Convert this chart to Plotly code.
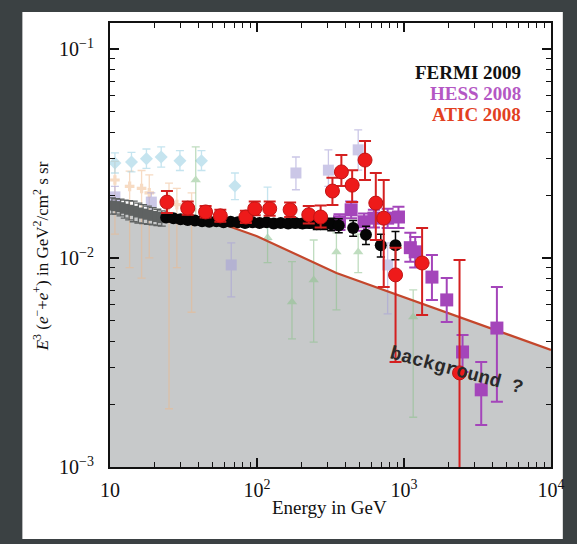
import plotly.graph_objects as go

# ---------------- data ----------------
# background model (GeV, GeV^2 cm^-2 s^-1 sr^-1)
bg_E = [10, 20, 49, 100, 347, 10000]
bg_v = [0.0172, 0.0161, 0.0152, 0.0127, 0.00848, 0.00363]
floor_v = 1e-4

# FERMI 2009
fermi_E = [24.1, 27.0, 30.2, 33.8, 37.8, 42.3, 47.3, 52.9, 59.2, 66.2, 74.1, 82.9, 92.8,
           104, 116, 130, 145, 163, 182, 204, 228, 255, 286, 320, 360, 451, 551, 695, 875]
fermi_v = [0.0156, 0.0155, 0.0153, 0.0152, 0.0151, 0.0150, 0.0149, 0.0150, 0.0148, 0.0149,
           0.0148, 0.0147, 0.0148, 0.0147, 0.0148, 0.0146, 0.0147, 0.0146, 0.0147, 0.0146,
           0.0147, 0.0145, 0.0146, 0.0145, 0.0143, 0.0139, 0.0129, 0.0115, 0.0115]
fermi_hi = [0.0162, 0.0161, 0.0159, 0.0158, 0.0157, 0.0156, 0.0155, 0.0156, 0.0154, 0.0155,
            0.0154, 0.0153, 0.0154, 0.0153, 0.0154, 0.0152, 0.0153, 0.0152, 0.0154, 0.0153,
            0.0155, 0.0153, 0.0155, 0.0155, 0.0154, 0.0151, 0.0142, 0.0130, 0.0134]
fermi_lo = [0.0150, 0.0149, 0.0147, 0.0146, 0.0145, 0.0144, 0.0143, 0.0144, 0.0142, 0.0143,
            0.0142, 0.0141, 0.0142, 0.0141, 0.0142, 0.0140, 0.0141, 0.0140, 0.0140, 0.0139,
            0.0139, 0.0137, 0.0137, 0.0135, 0.0132, 0.0127, 0.0116, 0.0101, 0.0098]

# low-energy grey points
grey_E = [10.3, 11.0, 11.8, 12.6, 13.5, 14.5, 15.6, 16.8, 18.1, 19.5, 21.0, 22.5]
grey_v = [0.0178, 0.0177, 0.0175, 0.0172, 0.0170, 0.0168, 0.0165, 0.0163, 0.0161, 0.0159,
          0.0157, 0.0155]
grey_err = [0.0016, 0.0015, 0.0016, 0.0017, 0.0018, 0.0019, 0.0018, 0.0017, 0.0016, 0.0015,
            0.0014, 0.0013]

# HESS 2008
hess_E = [364, 437, 535, 624, 774, 917, 1104, 1192, 1549, 1953, 2502, 3352, 4285]
hess_v = [0.0149, 0.0170, 0.0149, 0.0155, 0.0155, 0.0157, 0.0112, 0.0107, 0.0081, 0.0063,
          0.00355, 0.00234, 0.00462]
hess_hi = [0.0162, 0.0186, 0.0163, 0.0170, 0.0172, 0.0176, 0.0132, 0.0126, 0.01034, 0.00802,
           0.00428, 0.00318, 0.00727]
hess_lo = [0.0136, 0.0155, 0.0135, 0.0140, 0.0139, 0.0139, 0.0096, 0.0090, 0.0063, 0.00494,
           0.00285, 0.00159, 0.00205]

# ATIC 2008
atic_E = [24.4, 33.8, 44.7, 56.3, 84.0, 96.5, 122, 168, 225, 271, 326, 375, 444, 543,
          643, 728, 876, 1328, 2386]
atic_v = [0.0185, 0.0173, 0.0166, 0.0159, 0.0157, 0.0172, 0.0172, 0.0170, 0.0161, 0.0157,
          0.0209, 0.0258, 0.0223, 0.0294, 0.0183, 0.0155, 0.0083, 0.00946, 0.00282]
atic_hi = [0.0209, 0.0186, 0.0177, 0.0170, 0.0168, 0.0186, 0.0186, 0.0184, 0.0177, 0.0178,
           0.0242, 0.0311, 0.0263, 0.0363, 0.0255, 0.0236, 0.0112, 0.01392, 0.00978]
atic_lo = [0.0164, 0.0161, 0.0156, 0.0149, 0.0147, 0.0160, 0.0159, 0.0157, 0.0146, 0.0140,
           0.0179, 0.0221, 0.0185, 0.0236, 0.0122, 0.00726, 0.00318, 0.00533, 0.00001]

# faded older measurements
cyan_E = [10.8, 14.0, 17.7, 22.3, 29.9, 41.9, 70.8, 118]
cyan_v = [0.0285, 0.0288, 0.0298, 0.0304, 0.0292, 0.0292, 0.0221, 0.0149]
cyan_hi = [0.0318, 0.0320, 0.0332, 0.0340, 0.0326, 0.0326, 0.0255, 0.0218]
cyan_lo = [0.0255, 0.0258, 0.0268, 0.0272, 0.0262, 0.0262, 0.0190, 0.0122]

orange_E = [10.8, 13.6, 16.4, 18.5, 25.2, 28.5, 35.9]
orange_v = [0.0236, 0.0220, 0.0215, 0.0205, 0.0190, 0.0180, 0.0170]
orange_hi = [0.0290, 0.0260, 0.0262, 0.0250, 0.0228, 0.0215, 0.0205]
orange_lo = [0.0130, 0.0090, 0.0080, 0.0100, 0.0019, 0.0090, 0.0055]

green_E = [38.3, 118, 173, 243, 347, 488, 1155]
green_v = [0.0236, 0.0125, 0.00616, 0.00785, 0.01068, 0.01068, 0.00522]
green_hi = [0.0340, 0.0160, 0.0096, 0.01219, 0.01318, 0.0130, 0.00703]
green_lo = [0.0150, 0.0095, 0.0041, 0.00396, 0.00564, 0.0085, 0.00173]

lav_E = [10.8, 19.1, 66.8, 184, 306, 488, 774]
lav_v = [0.0196, 0.0185, 0.00926, 0.0255, 0.0263, 0.0329, 0.00926]
lav_hi = [0.0220, 0.0205, 0.0118, 0.0304, 0.0329, 0.0410, 0.0118]
lav_lo = [0.0175, 0.0165, 0.00651, 0.0212, 0.0220, 0.0263, 0.0054]

x_ticks = [10, 100, 1000, 10000]
x_labels = ["10", "10<sup>2</sup>", "10<sup>3</sup>", "10<sup>4</sup>"]
x_minor = [m * d for d in (10, 100, 1000) for m in range(2, 10)]
y_ticks = [0.001, 0.01, 0.1]
y_labels = ["10<sup>−3</sup>", "10<sup>−2</sup>", "10<sup>−1</sup>"]
y_minor = [m * d for d in (0.001, 0.01, 0.1) for m in range(2, 10)]

legend_names = ["FERMI 2009", "HESS 2008", "ATIC 2008"]
legend_colors = ["#111111", "#b457c4", "#e2401f"]

x_title = "Energy in GeV"
y_title = ("<i>E</i><sup>3</sup> (<i>e</i><sup>−</sup>+<i>e</i><sup>+</sup>) in "
           "GeV<sup>2</sup>/cm<sup>2</sup> s sr")
note = "background ?"

SERIF = "Liberation Serif, Times New Roman, serif"
X_RANGE = [1, 4]
Y_RANGE = [-3, -0.876]


def errs(v, hi, lo):
    return ([h - a for a, h in zip(v, hi)], [a - l for a, l in zip(v, lo)])


fig = go.Figure()

# grey background region
fig.add_trace(go.Scatter(
    x=bg_E + [bg_E[-1], bg_E[0]], y=bg_v + [floor_v, floor_v],
    fill="toself", fillcolor="#c7c9ca", line=dict(width=0), mode="lines",
    hoverinfo="skip", showlegend=False))


def faded(E, v, hi, lo, color, symbol, size, opacity=0.55):
    up, dn = errs(v, hi, lo)
    fig.add_trace(go.Scatter(
        x=E, y=v, mode="markers", opacity=opacity, showlegend=False,
        marker=dict(color=color, symbol=symbol, size=size),
        error_y=dict(type="data", array=up, arrayminus=dn, color=color,
                     thickness=1.3, width=4)))


faded(orange_E, orange_v, orange_hi, orange_lo, "#f0b888", "cross", 8, 0.5)
faded(cyan_E, cyan_v, cyan_hi, cyan_lo, "#9fd3e6", "diamond", 10, 0.6)
faded(green_E, green_v, green_hi, green_lo, "#8cc28c", "triangle-up", 9, 0.55)
faded(lav_E, lav_v, lav_hi, lav_lo, "#a9a3d8", "square", 11, 0.6)

# background line
fig.add_trace(go.Scatter(x=bg_E[2:], y=bg_v[2:], mode="lines",
                         line=dict(color="#c4472c", width=2.2),
                         hoverinfo="skip", showlegend=False))

# grey low energy points
fig.add_trace(go.Scatter(
    x=grey_E, y=grey_v, mode="markers", showlegend=False,
    marker=dict(color="#5f6262", symbol="square", size=10),
    error_y=dict(type="data", array=grey_err, color="#5f6262", thickness=1.3, width=4)))

# HESS
up, dn = errs(hess_v, hess_hi, hess_lo)
fig.add_trace(go.Scatter(
    x=hess_E, y=hess_v, mode="markers", name=legend_names[1], showlegend=False,
    marker=dict(color="#a445ba", symbol="square", size=13),
    error_y=dict(type="data", array=up, arrayminus=dn, color="#a445ba",
                 thickness=2, width=6)))

# FERMI
up, dn = errs(fermi_v, fermi_hi, fermi_lo)
fig.add_trace(go.Scatter(
    x=fermi_E, y=fermi_v, mode="markers", name=legend_names[0], showlegend=False,
    marker=dict(color="#050505", symbol="circle", size=12),
    error_y=dict(type="data", array=up, arrayminus=dn, color="#050505",
                 thickness=1.5, width=4)))

# ATIC
up, dn = errs(atic_v, atic_hi, atic_lo)
fig.add_trace(go.Scatter(
    x=atic_E, y=atic_v, mode="markers", name=legend_names[2], showlegend=False,
    marker=dict(color="#ee1a1a", symbol="circle", size=14,
                line=dict(color="#c01414", width=1)),
    error_y=dict(type="data", array=up, arrayminus=dn, color="#d42020",
                 thickness=2, width=6)))

# invisible trace on the overlay axes that carry the minor ticks
fig.add_trace(go.Scatter(x=[x_ticks[0]], y=[y_ticks[0]], xaxis="x2", yaxis="y2",
                         mode="markers", marker=dict(opacity=0), hoverinfo="skip",
                         showlegend=False))

# white panel behind everything
fig.add_shape(type="rect", xref="paper", yref="paper",
              x0=-0.1987, x1=1.0268, y0=-0.1622, y1=1.0248,
              fillcolor="#ffffff", line=dict(width=0), layer="below")

# legend text
for i, (nm, col) in enumerate(zip(legend_names, legend_colors)):
    fig.add_annotation(x=0.9375, y=0.8874 - i * 0.0473, xref="paper", yref="paper",
                       text="<b>" + nm + "</b>", showarrow=False,
                       xanchor="right", yanchor="middle",
                       font=dict(family=SERIF, size=19, color=col))

fig.add_annotation(x=0.7857, y=0.216, xref="paper", yref="paper",
                   text="<b>" + note + "</b>", showarrow=False, textangle=15,
                   xanchor="center", yanchor="middle",
                   font=dict(family="Liberation Mono, Courier New, monospace",
                             size=19, color="#2a2a2a"))

# axis titles
fig.add_annotation(x=0.4978, y=-0.0901, xref="paper", yref="paper", text=x_title,
                   showarrow=False, xanchor="center", yanchor="middle",
                   font=dict(family=SERIF, size=19, color="#111111"))
fig.add_annotation(x=-0.156, y=0.475, xref="paper", yref="paper", text=y_title,
                   showarrow=False, xanchor="center", yanchor="middle", textangle=-90,
                   font=dict(family=SERIF, size=17, color="#111111"))

axis_common = dict(type="log", showline=True, linecolor="#111111", linewidth=2,
                   mirror="ticks", ticks="inside", ticklen=9, tickwidth=1.5,
                   tickcolor="#111111", showgrid=False, zeroline=False,
                   tickfont=dict(family=SERIF, size=20, color="#111111"))
minor_common = dict(type="log", showline=False, mirror="ticks", ticks="inside",
                    ticklen=5, tickwidth=1.2, tickcolor="#111111", showgrid=False,
                    zeroline=False, showticklabels=False, tickmode="array")

fig.update_layout(
    xaxis=dict(range=X_RANGE, tickmode="array", tickvals=x_ticks, ticktext=x_labels,
               ticklabelstandoff=4, **axis_common),
    yaxis=dict(range=Y_RANGE, tickmode="array", tickvals=y_ticks, ticktext=y_labels,
               ticklabelstandoff=10, **axis_common),
    xaxis2=dict(range=X_RANGE, tickvals=x_minor, overlaying="x", anchor="y2",
                side="bottom", **minor_common),
    yaxis2=dict(range=Y_RANGE, tickvals=y_minor, overlaying="y", anchor="x2",
                side="left", **minor_common),
)

fig.update_layout(width=577, height=544, autosize=False,
                  margin=dict(l=110, r=19, t=23, b=77),
                  paper_bgcolor="#3b4143", plot_bgcolor="#ffffff",
                  showlegend=False)

fig.write_html("out.html")
